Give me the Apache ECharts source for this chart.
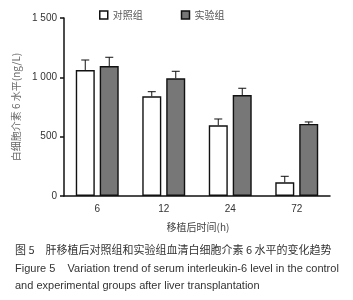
<!DOCTYPE html>
<html>
<head>
<meta charset="utf-8">
<script src="https://cdn.jsdelivr.net/npm/echarts@6/dist/echarts.min.js"></script>
<style>
  html, body { margin: 0; padding: 0; background: #fff; }
  #chart { width: 353px; height: 300px; }
</style>
</head>
<body>
<div id="chart"></div>
<script>
const categories = ['6', '12', '24', '72'];
const controlVals = [1062, 840, 596, 115];
const controlErr = [84, 39, 53, 51];
const expVals = [1095, 992, 851, 607];
const expErr = [74, 59, 57, 17];
const yTicks = ['0', '500', '1 000', '1 500'];

const chartDom = document.getElementById('chart');
const myChart = echarts.init(chartDom);

const BAR_W = 19;
const BAR_OFF = 12; // half of bar width + gap

// error bar: vertical line from top of bar + T cap
const errSeries = (vals, errs, off) => ({
    type: 'custom',
    silent: true,
    z: 1,
    data: vals.map((v, i) => [i, v, v + errs[i]]),
    renderItem: (params, api) => {
        const top = api.coord([api.value(0), api.value(2)]);
        const base = api.coord([api.value(0), api.value(1)]);
        const x = top[0] + off;
        return {
            type: 'group',
            children: [
                { type: 'line', shape: { x1: x, y1: base[1], x2: x, y2: top[1] }, style: { stroke: '#111', lineWidth: 1 } },
                { type: 'line', shape: { x1: x - 4, y1: top[1], x2: x + 4, y2: top[1] }, style: { stroke: '#111', lineWidth: 1 } }
            ]
        };
    }
});

const option = {
    animation: false,
    textStyle: { fontFamily: 'Liberation Sans, Arial, sans-serif' },
    grid: { left: 64, right: 23, top: 18, bottom: 104 },
    legend: {
        top: 5,
        left: 94,
        itemGap: 38,
        itemWidth: 8,
        itemHeight: 8,
        icon: 'rect',
        textStyle: { fontSize: 10, color: '#555', fontFamily: 'Noto Sans CJK SC' },
        data: [
            { name: '对照组', itemStyle: { color: '#fff', borderColor: '#111', borderWidth: 1.5 } },
            { name: '实验组', itemStyle: { color: '#777', borderColor: '#111', borderWidth: 1.5 } }
        ]
    },
    xAxis: {
        type: 'category',
        data: categories,
        name: '移植后时间(h)',
        nameLocation: 'middle',
        nameGap: 26,
        nameTextStyle: { fontSize: 10, color: '#444', fontFamily: 'Noto Sans CJK SC', padding: [0, 0, 0, 2] },
        axisLine: { lineStyle: { color: '#111', width: 1.5 } },
        axisTick: { alignWithLabel: true, length: 4, lineStyle: { color: '#111', width: 1.5 } },
        axisLabel: { fontSize: 10, color: '#333', margin: 8 }
    },
    yAxis: {
        type: 'value',
        min: 0,
        max: 1500,
        interval: 500,
        name: '白细胞介素 6 水平(ng/L)',
        nameLocation: 'middle',
        nameGap: 37,
        nameTextStyle: { fontSize: 10, color: '#666', fontFamily: 'Noto Sans CJK SC' },
        splitLine: { show: false },
        axisLine: { show: true, lineStyle: { color: '#111', width: 1.5 } },
        axisTick: { show: true, length: 4, lineStyle: { color: '#111', width: 1.5 } },
        axisLabel: {
            fontSize: 10, color: '#333', margin: 7,
            formatter: v => yTicks[v / 500]
        }
    },
    series: [
        {
            name: '对照组',
            type: 'bar',
            barWidth: BAR_W,
            barGap: '26%',
            z: 2,
            data: controlVals,
            itemStyle: { color: '#fff', borderColor: '#111', borderWidth: 1.4 }
        },
        {
            name: '实验组',
            type: 'bar',
            barWidth: BAR_W,
            z: 2,
            data: expVals,
            itemStyle: { color: '#777', borderColor: '#111', borderWidth: 1.4 }
        },
        errSeries(controlVals, controlErr, -BAR_OFF),
        errSeries(expVals, expErr, BAR_OFF)
    ],
    graphic: [
        {
            type: 'text', left: 15, top: 244,
            style: { text: '图 5　肝移植后对照组和实验组血清白细胞介素 6 水平的变化趋势', fontSize: 11, fill: '#333', fontFamily: 'Noto Sans CJK SC' }
        },
        {
            type: 'text', left: 15, top: 263,
            style: { text: 'Figure 5    Variation trend of serum interleukin-6 level in the control', fontSize: 11, fill: '#333', fontFamily: 'Liberation Sans' }
        },
        {
            type: 'text', left: 15, top: 280,
            style: { text: 'and experimental groups after liver transplantation', fontSize: 11, fill: '#333', fontFamily: 'Liberation Sans' }
        }
    ]
};

myChart.setOption(option);
window.addEventListener('resize', () => myChart.resize());
</script>
</body>
</html>
